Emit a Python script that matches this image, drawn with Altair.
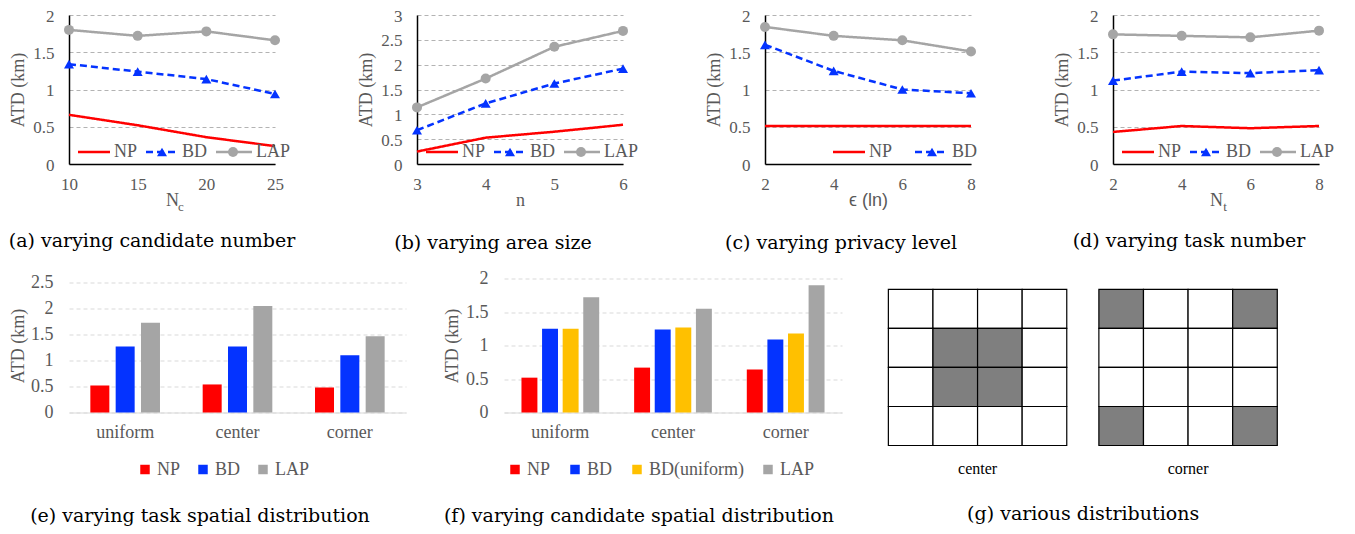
import altair as alt
import pandas as pd

# ---------------- data ----------------
SERIES = ["NP", "BD", "LAP"]

A_X = [10, 15, 20, 25]
A_NP = [0.66, 0.52, 0.36, 0.24]
A_BD = [1.34, 1.24, 1.14, 0.94]
A_LAP = [1.80, 1.72, 1.78, 1.66]

B_X = [3, 4, 5, 6]
B_NP = [0.25, 0.53, 0.65, 0.79]
B_BD = [0.68, 1.22, 1.62, 1.92]
B_LAP = [1.14, 1.72, 2.36, 2.68]

C_X = [2, 4, 6, 8]
C_NP = [0.51, 0.51, 0.51, 0.51]
C_BD = [1.60, 1.25, 1.00, 0.95]
C_LAP = [1.84, 1.72, 1.66, 1.51]

D_X = [2, 4, 6, 8]
D_NP = [0.43, 0.51, 0.48, 0.51]
D_BD = [1.12, 1.24, 1.22, 1.26]
D_LAP = [1.74, 1.72, 1.70, 1.79]

DIST = ["uniform", "center", "corner"]
E_SERIES = ["NP", "BD", "LAP"]
E_NP = [0.52, 0.54, 0.48]
E_BD = [1.27, 1.27, 1.10]
E_LAP = [1.73, 2.05, 1.47]

F_SERIES = ["NP", "BD", "BD(uniform)", "LAP"]
F_NP = [0.52, 0.67, 0.64]
F_BD = [1.25, 1.24, 1.09]
F_BDU = [1.25, 1.27, 1.18]
F_LAP = [1.72, 1.55, 1.90]

GRID_N = 4
GRID_NAMES = ["center", "corner"]
CENTER_SHADED = [(1, 1), (1, 2), (2, 1), (2, 2)]
CORNER_SHADED = [(0, 0), (0, 3), (3, 0), (3, 3)]

# ---------------- style ----------------
COLORS = {"NP": "#FF0000", "BD": "#0433FF", "BD(uniform)": "#FFC000", "LAP": "#A5A5A5"}
DASH = {"NP": [1, 0], "BD": [7, 4], "LAP": [1, 0]}
SHAPE = {"BD": "triangle-up", "LAP": "circle"}
SERIF = "'Liberation Serif', 'Times New Roman', Tinos, 'Nimbus Roman', FreeSerif, serif"
CAPFONT = "DejaVu Serif"
GRAY_TXT = "#595959"
W, H = 206, 149


def caption(text, dx, offset):
    return alt.TitleParams(text=text, orient="bottom", anchor="middle", dx=dx, offset=offset,
                           font=CAPFONT, fontSize=19, fontWeight="normal", color="#000000")


def legend_layers(entries, y):
    layers = []
    for s, x0, x1, xm, xt in entries:
        one = alt.Chart(pd.DataFrame({"series": [s]}))
        layers.append(one.mark_rule(color=COLORS[s], strokeWidth=2.5, strokeDash=DASH[s]).encode(
            x=alt.value(x0), x2=alt.value(x1), y=alt.value(y)))
        if xm is not None:
            layers.append(one.mark_point(shape=SHAPE[s], filled=True, size=100, color=COLORS[s], opacity=1).encode(
                x=alt.value(xm), y=alt.value(y)))
        layers.append(one.mark_text(text=s, align="left", baseline="middle", font=SERIF, fontSize=18,
                                    color=GRAY_TXT).encode(x=alt.value(xt), y=alt.value(y)))
    return layers


LEG3 = [("NP", 9, 41, None, 45), ("BD", 77, 108, 93, 113), ("LAP", 147, 183, 164, 187)]
LEG2 = [("NP", 68, 100, None, 104), ("BD", 150, 182, 167, 187)]


def line_panel(xs, np_v, bd_v, lap_v, ymax, xtitle, cap, legend, sub=None, xfont=SERIF, cap_offset=21,
               cap_dx=-27):
    df = pd.DataFrame({
        "x": list(xs) * 3,
        "series": [s for s in SERIES for _ in xs],
        "value": list(np_v) + list(bd_v) + list(lap_v),
    })
    yticks = [i * 0.5 for i in range(int(ymax * 2) + 1)]
    color = alt.Color("series:N", scale=alt.Scale(domain=SERIES, range=[COLORS[s] for s in SERIES]), legend=None)
    xaxis = alt.Axis(values=list(xs), format="d", title=xtitle, titleFont=xfont, titleFontSize=18,
                     titleFontWeight="normal", titleColor=GRAY_TXT, titleY=36.5, titleBaseline="middle",
                     labelFont=SERIF, labelFontSize=17, labelColor=GRAY_TXT, labelPadding=12,
                     labelFlush=False, labelOverlap=False, ticks=False, tickSize=0, grid=False,
                     domainColor="#000000", domainWidth=1.5)
    yaxis = alt.Axis(values=yticks, format=".1~f", title="ATD (km)", titleX=-51, titleY=H / 2,
                     titleBaseline="middle", titleAngle=270, titleFont=SERIF, titleFontSize=18,
                     titleFontWeight="normal", titleColor=GRAY_TXT, labelFont=SERIF, labelFontSize=17,
                     labelColor=GRAY_TXT, labelPadding=15, labelFlush=False, labelOverlap=False,
                     labelOffset=1, ticks=False, tickSize=0,
                     domainColor="#000000", domainWidth=1.5, grid=True, gridDash=[4, 3],
                     gridColor="#b3b3b3", gridWidth=1)
    xscale = alt.Scale(domain=[xs[0], xs[-1]], nice=False, zero=False)
    yscale = alt.Scale(domain=[0, ymax], nice=False)
    xenc = alt.X("x:Q", scale=xscale, axis=xaxis)
    yenc = alt.Y("value:Q", scale=yscale, axis=yaxis)
    base = alt.Chart(df)
    lines = base.mark_line(strokeWidth=2.5).encode(
        x=xenc, y=yenc, color=color,
        strokeDash=alt.StrokeDash("series:N", scale=alt.Scale(domain=SERIES, range=[DASH[s] for s in SERIES]),
                                  legend=None))
    pts = base.transform_filter(alt.datum.series != "NP").mark_point(filled=True, size=100, opacity=1).encode(
        x=xenc, y=yenc, color=color,
        shape=alt.Shape("series:N", scale=alt.Scale(domain=["BD", "LAP"], range=["triangle-up", "circle"]),
                        legend=None))
    layers = [lines, pts] + legend_layers(legend, H - 12)
    if sub:
        layers.append(alt.Chart(pd.DataFrame({"s": [sub]})).mark_text(
            text=sub, font=SERIF, fontSize=13, color=GRAY_TXT, baseline="middle", align="center").encode(
            x=alt.value(W / 2 + 9), y=alt.value(H + 43)))
    return alt.layer(*layers).properties(width=W, height=H, title=caption(cap, cap_dx, cap_offset))


def bar_panel(series, values, ymax, ytop_tick, width, pi, po, opi, title_x, legend_x, col_pad, cap, cap_dx,
              cap_offset):
    rows = []
    for s, vals in zip(series, values):
        for d, v in zip(DIST, vals):
            rows.append({"dist": d, "series": s, "value": v})
    df = pd.DataFrame(rows)
    yticks = [i * 0.5 for i in range(int(ytop_tick * 2) + 1)]
    return alt.Chart(df).mark_bar().encode(
        x=alt.X("dist:N", sort=DIST, scale=alt.Scale(domain=DIST, paddingInner=pi, paddingOuter=po),
                axis=alt.Axis(title=None, labelAngle=0, labelFont=SERIF, labelFontSize=18, labelColor=GRAY_TXT,
                              labelPadding=11, ticks=False, tickSize=0, domainColor="#d9d9d9", domainWidth=1.2)),
        xOffset=alt.XOffset("series:N", scale=alt.Scale(domain=series, paddingInner=opi, paddingOuter=0)),
        y=alt.Y("value:Q", scale=alt.Scale(domain=[0, ymax], nice=False),
                axis=alt.Axis(values=yticks, format=".1~f", title="ATD (km)", titleX=title_x, titleY=67,
                              titleBaseline="middle", titleAngle=270, titleFont=SERIF, titleFontSize=18,
                              titleFontWeight="normal", titleColor=GRAY_TXT, labelFont=SERIF, labelFontSize=18,
                              labelColor=GRAY_TXT, labelPadding=16, labelFlush=False, labelOverlap=False,
                              ticks=False, tickSize=0,
                              domain=False, grid=True, gridDash=[4, 3], gridColor="#d9d9d9", gridWidth=1)),
        color=alt.Color("series:N",
                        scale=alt.Scale(domain=series, range=[COLORS[s] for s in series]),
                        legend=alt.Legend(orient="none", legendX=legend_x, legendY=182, direction="horizontal",
                                          title=None, symbolType="square", symbolSize=90, symbolStrokeWidth=0,
                                          labelFont=SERIF, labelFontSize=18, labelColor=GRAY_TXT, labelOffset=3,
                                          columnPadding=col_pad, padding=0)),
    ).properties(width=width, height=134, title=caption(cap, cap_dx, cap_offset))


GRID_GAP = 0.72
G_XMIN = -0.21
G_YMIN = -0.28
PX_X = 44.6
PX_Y = 39.02


def grid_panel():
    rows = []
    for name, shaded, off in [("center", CENTER_SHADED, 0.0), ("corner", CORNER_SHADED, GRID_N + GRID_GAP)]:
        for r in range(GRID_N):
            for c in range(GRID_N):
                rows.append({"x0": off + c, "x1": off + c + 1, "y0": r, "y1": r + 1,
                             "shaded": int((r, c) in shaded)})
    df = pd.DataFrame(rows)
    xmax = 2 * GRID_N + GRID_GAP
    xs = alt.Scale(domain=[G_XMIN, xmax], nice=False, zero=False)
    ys = alt.Scale(domain=[G_YMIN, GRID_N], nice=False, zero=False, reverse=True)
    rects = alt.Chart(df).mark_rect(stroke="#000000", strokeWidth=1.2).encode(
        x=alt.X("x0:Q", scale=xs, axis=None), x2="x1:Q",
        y=alt.Y("y0:Q", scale=ys, axis=None), y2="y1:Q",
        fill=alt.condition("datum.shaded == 1", alt.value("#7f7f7f"), alt.value("#ffffff")))
    lab = pd.DataFrame({"name": GRID_NAMES, "x": [GRID_N / 2, GRID_N + GRID_GAP + GRID_N / 2]})
    labels = alt.Chart(lab).mark_text(font=SERIF, fontSize=16, color="#000000", baseline="middle").encode(
        x=alt.X("x:Q", scale=xs), y=alt.value(190), text="name:N")
    width = (xmax - G_XMIN) * PX_X
    height = (GRID_N - G_YMIN) * PX_Y
    return alt.layer(rects, labels).properties(width=width, height=height,
                                               title=caption("(g) various distributions", 5, 28))


pa = line_panel(A_X, A_NP, A_BD, A_LAP, 2, "N", "(a) varying candidate number", LEG3, sub="c", cap_offset=18,
                cap_dx=-20)
pb = line_panel(B_X, B_NP, B_BD, B_LAP, 3, "n", "(b) varying area size", LEG3, cap_offset=24)
pc = line_panel(C_X, C_NP, C_BD, C_LAP, 2, "ϵ (ln)", "(c) varying privacy level", LEG2,
                xfont="'Liberation Sans', 'DejaVu Sans', sans-serif", cap_offset=24)
pdd = line_panel(D_X, D_NP, D_BD, D_LAP, 2, "N", "(d) varying task number", LEG3, sub="t", cap_offset=18)

pe = bar_panel(E_SERIES, [E_NP, E_BD, E_LAP], 2.58, 2.5, 337, 0.38, 0.19, 0.25, -51, 67, 13,
               "(e) varying task spatial distribution", -37.5, 28)
pf = bar_panel(F_SERIES, [F_NP, F_BD, F_BDU, F_LAP], 2.0, 2.0, 338, 0.31, 0.155, 0.226, -52, 2, 15,
               "(f) varying candidate spatial distribution", -34, 28)
pg = grid_panel()

res = dict(color="independent", shape="independent", strokeDash="independent", xOffset="independent")
top = alt.hconcat(pa, pb, pc, pdd, spacing=142, bounds="flush").resolve_scale(**res).resolve_legend(
    color="independent")
bottom = alt.hconcat(pe, pf, pg, spacing=37).resolve_scale(**res).resolve_legend(color="independent")
chart = alt.vconcat(top, bottom, spacing=16.5).resolve_scale(**res).resolve_legend(color="independent").properties(
    padding={"left": 0, "top": -1, "right": 0, "bottom": 0},
    background="#ffffff",
).configure_view(stroke=None)

chart.save("out.html", embed_options={"renderer": "svg", "actions": False})
